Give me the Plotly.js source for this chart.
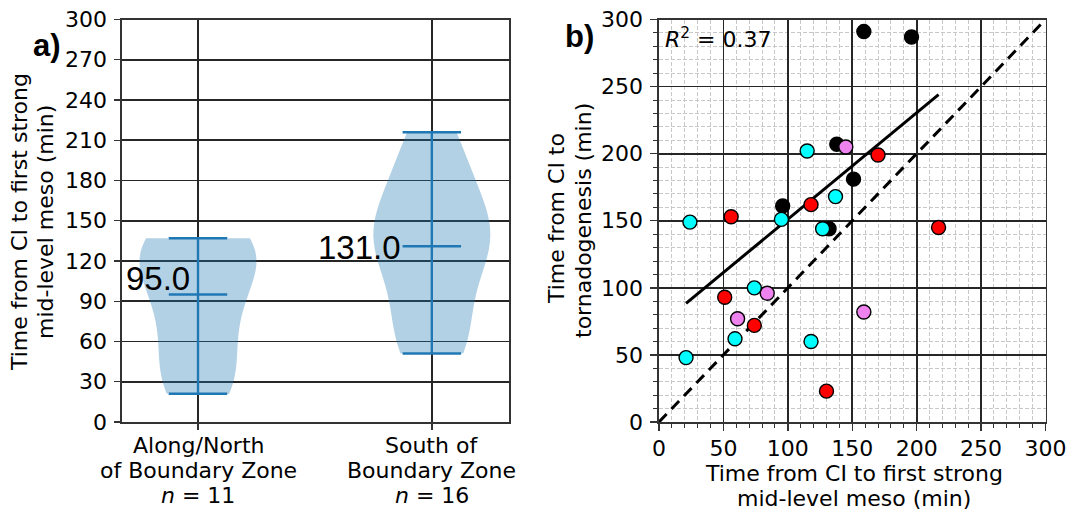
<!DOCTYPE html>
<html>
<head>
<meta charset="utf-8">
<script src="https://cdn.plot.ly/plotly-3.0.1.min.js"></script>
<style>
  html, body { margin: 0; padding: 0; background: #ffffff; }
  #chart { width: 1069px; height: 510px; }
</style>
</head>
<body>
<div id="chart"></div>
<script>
// ---- Panel a: time from CI to first strong mid-level meso, by position relative to the boundary zone
const groupLabelLines = [['Along/North', 'of Boundary Zone'], ['South of', 'Boundary Zone']];
const groupPositions = [1, 2];
const alongNorthTimes = [21, 28, 40, 65, 85, 95, 118, 125, 132, 135, 137];
const southTimes = [51, 56, 61, 74, 96, 118, 128, 130, 132, 145, 151, 159, 170, 190, 205, 216];
const timeTicksA = [0, 30, 60, 90, 120, 150, 180, 210, 240, 270, 300];

// ---- Panel b: meso time (x) against tornadogenesis time (y), one series per marker colour
const blackMeso = [159, 196, 138, 151, 96, 132];
const blackTor = [291, 287, 207, 181, 161, 144];
const redMeso = [170, 118, 56, 217, 51, 74, 130];
const redTor = [199, 162, 153, 145, 93, 72, 23];
const violetMeso = [145, 84, 61, 159];
const violetTor = [205, 96, 77, 82];
const cyanMeso = [115, 137, 95, 24, 127, 74, 59, 118, 21];
const cyanTor = [202, 168, 151, 149, 144, 100, 62, 60, 48];
const fitMeso = [21, 217];
const fitTor = [88.4, 244];
const oneToOne = [0, 300];
const rSquared = 0.37;
const timeTicksB = [0, 50, 100, 150, 200, 250, 300];

// ---- helpers
function median(v) {
  const s = v.slice().sort((a, b) => a - b);
  const m = Math.floor(s.length / 2);
  return s.length % 2 ? s[m] : (s[m - 1] + s[m]) / 2;
}
function scottBandwidth(v) {
  const n = v.length;
  const mean = v.reduce((a, b) => a + b, 0) / n;
  const sd = Math.sqrt(v.reduce((a, b) => a + (b - mean) * (b - mean), 0) / (n - 1));
  return sd * Math.pow(n, -0.2);
}

const BLUE = '#1f77b4';
const FONT = 'DejaVu Sans';
const FS = 22;
const TICK_FONT = { family: FONT, size: FS, color: '#000000' };
const groups = [alongNorthTimes, southTimes];

const traces = [];

// violin bodies (KDE computed by Plotly, Scott bandwidth, clipped to the data range)
groups.forEach((vals, i) => {
  traces.push({
    type: 'violin', x0: groupPositions[i], y: vals, xaxis: 'x', yaxis: 'y',
    width: 0.5, spanmode: 'hard', bandwidth: scottBandwidth(vals),
    points: false, box: { visible: false }, meanline: { visible: false },
    fillcolor: 'rgba(31,119,180,0.34)', line: { width: 0, color: 'rgba(31,119,180,0)' },
    hoverinfo: 'skip', showlegend: false
  });
});

// extrema / median bars and the connecting stem
groups.forEach((vals, i) => {
  const p = groupPositions[i];
  const lo = Math.min(...vals), hi = Math.max(...vals), md = median(vals);
  const hw = 0.125;
  traces.push({
    type: 'scatter', mode: 'lines', xaxis: 'x', yaxis: 'y', showlegend: false, hoverinfo: 'skip',
    x: [p, p, null, p - hw, p + hw, null, p - hw, p + hw, null, p - hw, p + hw],
    y: [lo, hi, null, lo, lo, null, hi, hi, null, md, md],
    line: { color: BLUE, width: 2.4 }
  });
});

// scatter series
function dots(x, y, color) {
  return {
    type: 'scatter', mode: 'markers', x: x, y: y, xaxis: 'x2', yaxis: 'y2',
    showlegend: false, cliponaxis: false,
    marker: { size: 14, color: color, line: { color: '#000000', width: 1.4 } }
  };
}
traces.push({
  type: 'scatter', mode: 'lines', x: oneToOne, y: oneToOne, xaxis: 'x2', yaxis: 'y2',
  showlegend: false, line: { color: '#000000', width: 3, dash: '11px,7px' }
});
traces.push({
  type: 'scatter', mode: 'lines', x: fitMeso, y: fitTor, xaxis: 'x2', yaxis: 'y2',
  showlegend: false, line: { color: '#000000', width: 3 }
});
traces.push(dots(blackMeso, blackTor, '#000000'));
traces.push(dots(redMeso, redTor, '#ff0000'));
traces.push(dots(violetMeso, violetTor, '#ee82ee'));
traces.push(dots(cyanMeso, cyanTor, '#00ffff'));

const W = 1069, H = 510;
const px = v => v / W;
const py = v => 1 - v / H;

const frame = {
  showline: true, mirror: true, linecolor: '#333333', linewidth: 1.6,
  ticks: 'outside', ticklen: 6, tickwidth: 1.4, tickcolor: '#333333',
  zeroline: false, tickfont: TICK_FONT, fixedrange: true,
  showgrid: true, gridcolor: '#262626', gridwidth: 1.8
};
const minorGrid = {
  dtick: 10, tick0: 0, ticks: 'outside', ticklen: 4, tickwidth: 1, tickcolor: '#333333',
  showgrid: true, gridcolor: '#c8c8c8', gridwidth: 1, griddash: '4px,2px'
};

function textAt(xref, x, yref, y, text, font, extra) {
  return Object.assign({
    xref: xref, yref: yref, x: x, y: y, xanchor: 'center', yanchor: 'middle',
    text: text, showarrow: false, font: font
  }, extra || {});
}
const plain = { family: FONT, size: FS, color: '#000' };

const annotations = [
  textAt('paper', px(47), 'paper', py(45), '<b>a)</b>', { family: 'Liberation Sans', size: 31, color: '#000' }),
  textAt('paper', px(579), 'paper', py(37), '<b>b)</b>', { family: 'Liberation Sans', size: 31, color: '#000' }),
  textAt('x', 0.975, 'y', 106.8, median(alongNorthTimes).toFixed(1),
         { family: 'Liberation Sans', size: 33, color: '#000' }, { xanchor: 'right' }),
  textAt('x', 1.878, 'y', 130, median(southTimes).toFixed(1),
         { family: 'Liberation Sans', size: 33, color: '#000' }, { xanchor: 'right' }),
  textAt('x2', 3, 'y2', 286, '<i>R</i><sup>2</sup> = ' + rSquared.toFixed(2), plain, { xanchor: 'left' }),
  // panel a y title
  textAt('paper', px(19), 'paper', py(222), 'Time from CI to first strong', plain, { textangle: -90 }),
  textAt('paper', px(45), 'paper', py(222), 'mid-level meso (min)', plain, { textangle: -90 }),
  // panel b y title
  textAt('paper', px(556), 'paper', py(219), 'Time from CI to', plain, { textangle: -90 }),
  textAt('paper', px(583), 'paper', py(221), 'tornadogenesis (min)', plain, { textangle: -90 }),
  // panel b x title
  textAt('paper', px(854), 'paper', py(473), 'Time from CI to first strong', plain),
  textAt('paper', px(854), 'paper', py(498), 'mid-level meso (min)', plain)
];
// category labels of panel a, one line each, with the group size underneath
groupPositions.forEach((p, i) => {
  const lines = groupLabelLines[i].concat(['<i>n</i> = ' + groups[i].length]);
  lines.forEach((t, k) => {
    annotations.push(textAt('x', p, 'paper', py(445 + 25 * k), t, plain));
  });
});

const layout = {
  width: W, height: H,
  margin: { l: 0, r: 0, t: 0, b: 0 },
  paper_bgcolor: '#ffffff', plot_bgcolor: '#ffffff',
  showlegend: false,
  violinmode: 'overlay',
  xaxis: Object.assign({}, frame, {
    domain: [px(122), px(509)], range: [0.675, 2.33], anchor: 'y',
    tickmode: 'array', tickvals: groupPositions, showticklabels: false
  }),
  yaxis: Object.assign({}, frame, {
    domain: [py(422), py(19.5)], range: [0, 300], anchor: 'x',
    tickmode: 'array', tickvals: timeTicksA, ticktext: timeTicksA.map(String), ticklabelstandoff: 3
  }),
  xaxis2: Object.assign({}, frame, {
    domain: [px(659), px(1045.5)], range: [0, 300], anchor: 'y2',
    tickmode: 'array', tickvals: timeTicksB, ticktext: timeTicksB.map(String),
    ticklen: 7, ticklabelstandoff: -1, minor: minorGrid
  }),
  yaxis2: Object.assign({}, frame, {
    domain: [py(422), py(19.5)], range: [0, 300], anchor: 'x2',
    tickmode: 'array', tickvals: timeTicksB, ticktext: timeTicksB.map(String),
    ticklen: 7, ticklabelstandoff: 3, minor: minorGrid
  }),
  annotations: annotations
};

Plotly.newPlot('chart', traces, layout, { staticPlot: true, displayModeBar: false });
</script>
</body>
</html>
